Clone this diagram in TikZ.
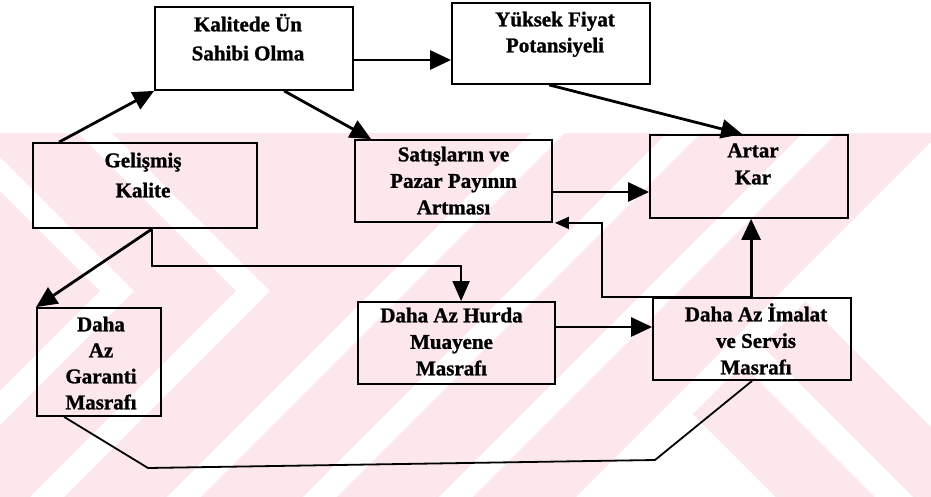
\documentclass[tikz,border=0pt]{standalone}
\usepackage{fontspec}
\setmainfont{Liberation Serif}[BoldFeatures={FakeBold=1.2}]
\usetikzlibrary{arrows.meta}
\definecolor{wmpink}{RGB}{252,232,236}
\newcommand\firstline{\rule{0pt}{20pt}}
\begin{document}
\begin{tikzpicture}[x=1pt,y=-1pt,
  box/.style={draw, line width=1.8pt, inner sep=0pt},
  lbl/.style={font=\fontsize{21}{#1}\selectfont\bfseries, align=center,
    anchor=north, inner sep=0pt},
  lbl/.default=27,
  con/.style={line width=2.8pt, -{Triangle[length=21pt,width=19pt]}},
  thinline/.style={line width=1.8pt},
]
\useasboundingbox (0,0) rectangle (931,497);

% background pattern: pink band with white diagonal bands
\begin{scope}
  \clip (0,133) rectangle (931,497);
  \fill[wmpink] (0,133) rectangle (931,497);
  % chevrons on the left
  \foreach \t in {253,117}
    \draw[white, line width=24pt, line join=miter]
      (\t-200,91) -- (\t,291) -- (\t-250,541);
  % straight rising bands
  \foreach \c in {681,817,953}
    \draw[white, line width=24pt] (\c-100,100) -- (\c-560,560);
  % lower right: white field with pink falling bands
  \fill[white] (1090-17-120,120) -- (1100,120) -- (1100,520) -- (1090-17-520,520) -- cycle;
  \begin{scope}
    \clip (1090+17-120,120) -- (1100,120) -- (1100,520) -- (1090+17-520,520) -- cycle;
    \draw[wmpink, line width=70pt] (328+100,100) -- (328+560,560);
    \draw[wmpink, line width=62pt] (460+100,100) -- (460+560,560);
  \end{scope}
\end{scope}

% boxes
\node[box, minimum width=198pt, minimum height=83pt]  (kal) at (254,48.5)  {};
\node[box, minimum width=198pt, minimum height=81pt]  (yuk) at (551,43.5)  {};
\node[box, minimum width=224pt, minimum height=85pt]  (gel) at (145,185.5) {};
\node[box, minimum width=197pt, minimum height=82pt]  (sat) at (453.5,181) {};
\node[box, minimum width=198pt, minimum height=83pt]  (art) at (749,176.5) {};
\node[box, minimum width=124pt, minimum height=108pt] (gar) at (99,362)    {};
\node[box, minimum width=197pt, minimum height=82pt]  (hur) at (456.5,343) {};
\node[box, minimum width=198pt, minimum height=82pt]  (ima) at (752,339)   {};

% texts
\node[lbl=29] (kalt) at ([xshift=-6pt,yshift=-5pt]kal.north) {\firstline Kalitede Ün\\Sahibi Olma};
\node[lbl=26] (yukt) at ([xshift=4pt,yshift=-4pt]yuk.north) {\firstline Yüksek Fiyat\\Potansiyeli};
\node[lbl=30] (gelt) at ([xshift=-2pt,yshift=-5pt]gel.north) {\firstline Gelişmiş\\Kalite};
\node[lbl=26.5] (satt) at ([yshift=-2pt]sat.north) {\firstline Satışların ve\\Pazar Payının\\Artması};
\node[lbl] (artt) at ([xshift=4pt,yshift=-3pt]art.north) {\firstline Artar\\Kar};
\node[lbl=26] (gart) at ([xshift=2pt,yshift=-4pt]gar.north) {\firstline Daha\\Az\\Garanti\\Masrafı};
\node[lbl=26.5] (hurt) at ([xshift=-5pt,yshift=-1pt]hur.north) {\firstline Daha Az Hurda\\Muayene\\Masrafı};
\node[lbl=26.5] (imat) at ([xshift=4pt,yshift=-4pt]ima.north) {\firstline Daha Az İmalat\\ve Servis\\Masrafı};

% connectors
\draw[con] ([xshift=27pt]gel.north west) -- (kal.south west);
\draw[con] ([yshift=-11.5pt]kal.east) -- ([yshift=-16.5pt]yuk.west);
\draw[con] ([xshift=130pt]kal.south west) -- ([xshift=17pt]sat.north west);
\draw[con] ([xshift=98pt]yuk.south west) -- ([xshift=93pt]art.north west);
\draw[con] ([yshift=-11pt]sat.east) -- ([yshift=-15.5pt]art.west);
\draw[con] ([xshift=99pt]ima.north west) -- ([xshift=102pt]art.south west);
\draw[con] ([yshift=16pt]hur.east) -- ([yshift=12pt]ima.west);

\coordinate (split) at ([xshift=120pt]gel.south west);
\draw[con] (split) -- (gar.north west);
\draw[thinline, -{Triangle[length=20pt,width=17pt]}]
  (split) -- ++(0,37) -| ([xshift=104pt]hur.north west);

\coordinate (rise) at ([xshift=-50pt]ima.north west);
\draw[thinline, -{Triangle[length=14pt,width=12pt]}]
  ([xshift=99pt]ima.north west) -- (rise) -- (rise |- sat.south east)
  -- ([xshift=2pt]sat.south east);

\coordinate (b1) at (148,468);
\coordinate (b2) at (655,460);
\draw[thinline, line join=round] ([xshift=28pt]gar.south west) -- (b1) -- (b2)
  -- ([xshift=100pt]ima.south west);
\end{tikzpicture}
\end{document}
